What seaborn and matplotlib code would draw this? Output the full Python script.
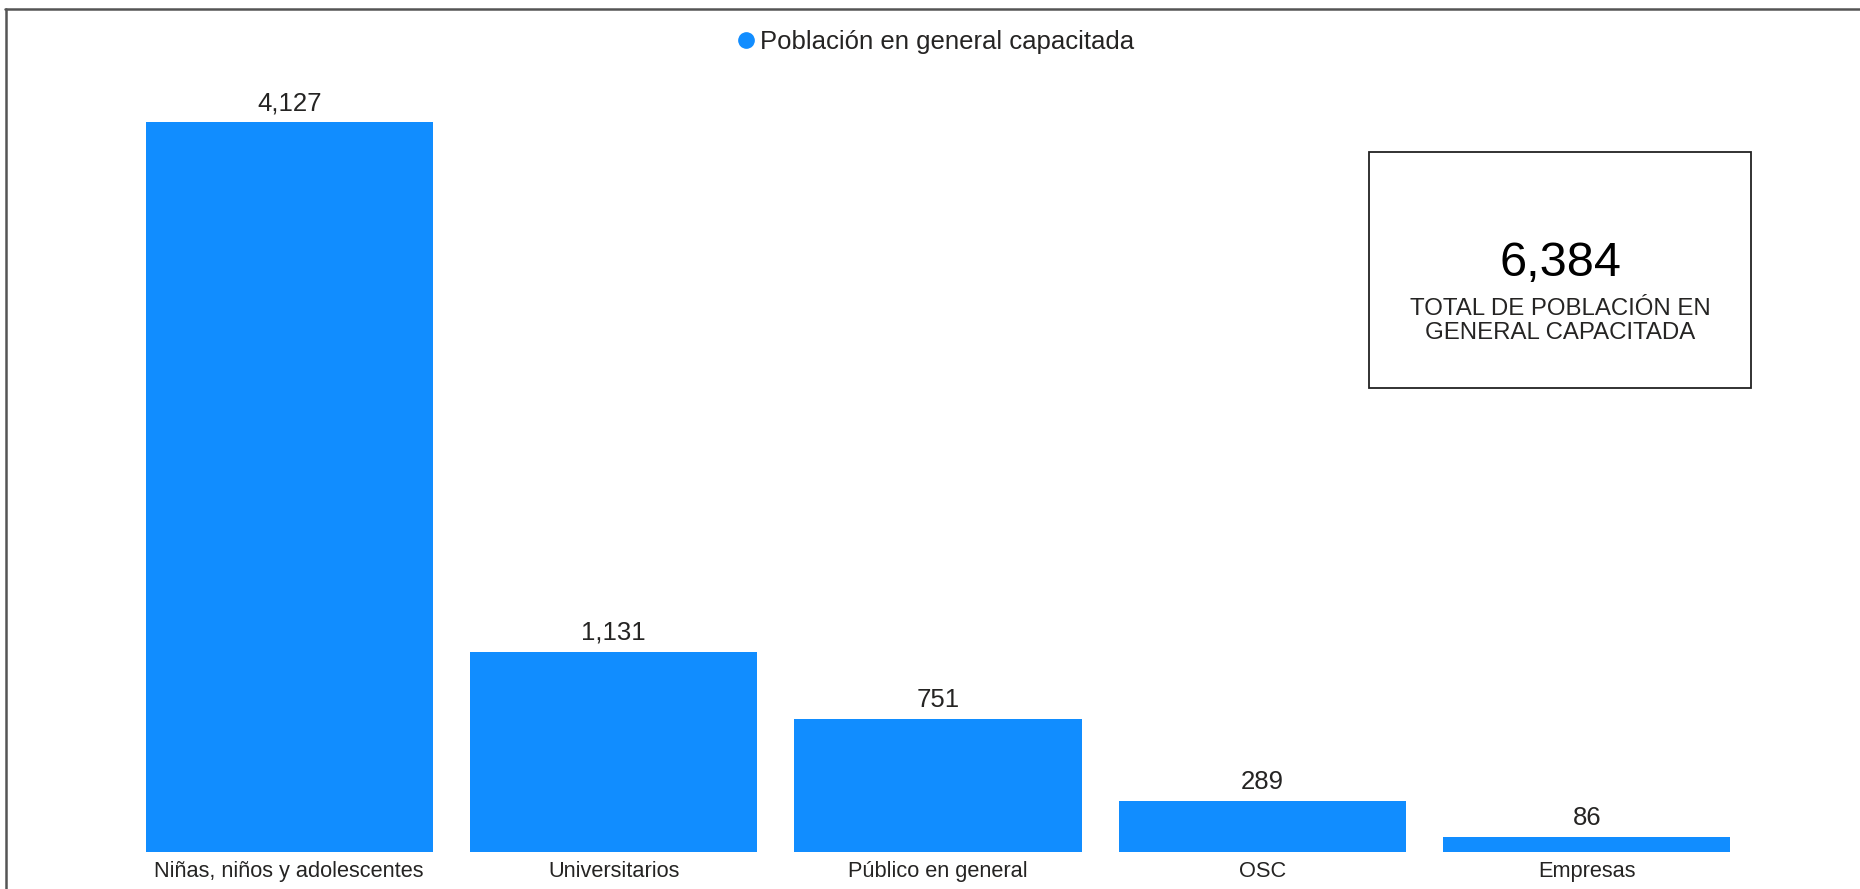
import matplotlib
matplotlib.use("Agg")
import matplotlib.pyplot as plt
import seaborn as sns
from matplotlib.lines import Line2D
from matplotlib.patches import Rectangle

categories = ["Niñas, niños y adolescentes", "Universitarios", "Público en general", "OSC", "Empresas"]
values = [4127, 1131, 751, 289, 86]
series_name = "Población en general capacitada"
total_value = "6,384"
total_label = "TOTAL DE POBLACIÓN EN\nGENERAL CAPACITADA"

sns.set_theme(style="white")
plt.rcParams["font.family"] = ["Liberation Sans", "DejaVu Sans"]

W, H = 1860, 889
fig = plt.figure(figsize=(W / 100, H / 100), dpi=100)
fig.patch.set_facecolor("white")

ax = fig.add_axes([127 / W, (H - 852) / H, (1749 - 127) / W, (852 - 122) / H])
sns.barplot(x=categories, y=values, color="#118DFF", saturation=1, width=0.885, ax=ax, edgecolor="none")
ax.set_ylim(0, max(values))
ax.set_xlim(-0.5, len(categories) - 0.5)
for s in ax.spines.values():
    s.set_visible(False)
ax.set_yticks([])
ax.set_xlabel("")
ax.set_ylabel("")
ax.tick_params(axis="x", length=0, pad=6.5, labelsize=15.7, labelcolor="#252423")
for c in ax.containers:
    ax.bar_label(c, labels=[f"{v:,.0f}" for v in values], padding=5, fontsize=18.5,
                 color="#252423", clip_on=False)

# legend
handle = Line2D([], [], marker="o", color="#118DFF", linestyle="", markersize=11)
fig.legend(handles=[handle], labels=[series_name], loc="center",
           bbox_to_anchor=(935 / W, 1 - 42 / H), frameon=False, handletextpad=0.15,
           handlelength=0.8, fontsize=18.5, labelcolor="#252423")

# total box
fig.patches.append(Rectangle((1369 / W, (H - 388) / H), (1751 - 1369) / W, (388 - 152) / H,
                             transform=fig.transFigure, fill=False, edgecolor="#222222", lw=1.3))
fig.text(1560 / W, 1 - 263 / H, total_value, ha="center", va="center", fontsize=35, color="black")
fig.text(1560 / W, 1 - 321 / H, total_label, ha="center", va="center", fontsize=17.3,
         color="#252423", linespacing=1.06)

# outer frame lines
fig.add_artist(Line2D([5 / W, 1], [1 - 9 / H, 1 - 9 / H], transform=fig.transFigure, color="#555555", lw=1.8))
fig.add_artist(Line2D([6 / W, 6 / W], [0, 1 - 9 / H], transform=fig.transFigure, color="#555555", lw=1.8))

fig.savefig("out.png", dpi=100)
